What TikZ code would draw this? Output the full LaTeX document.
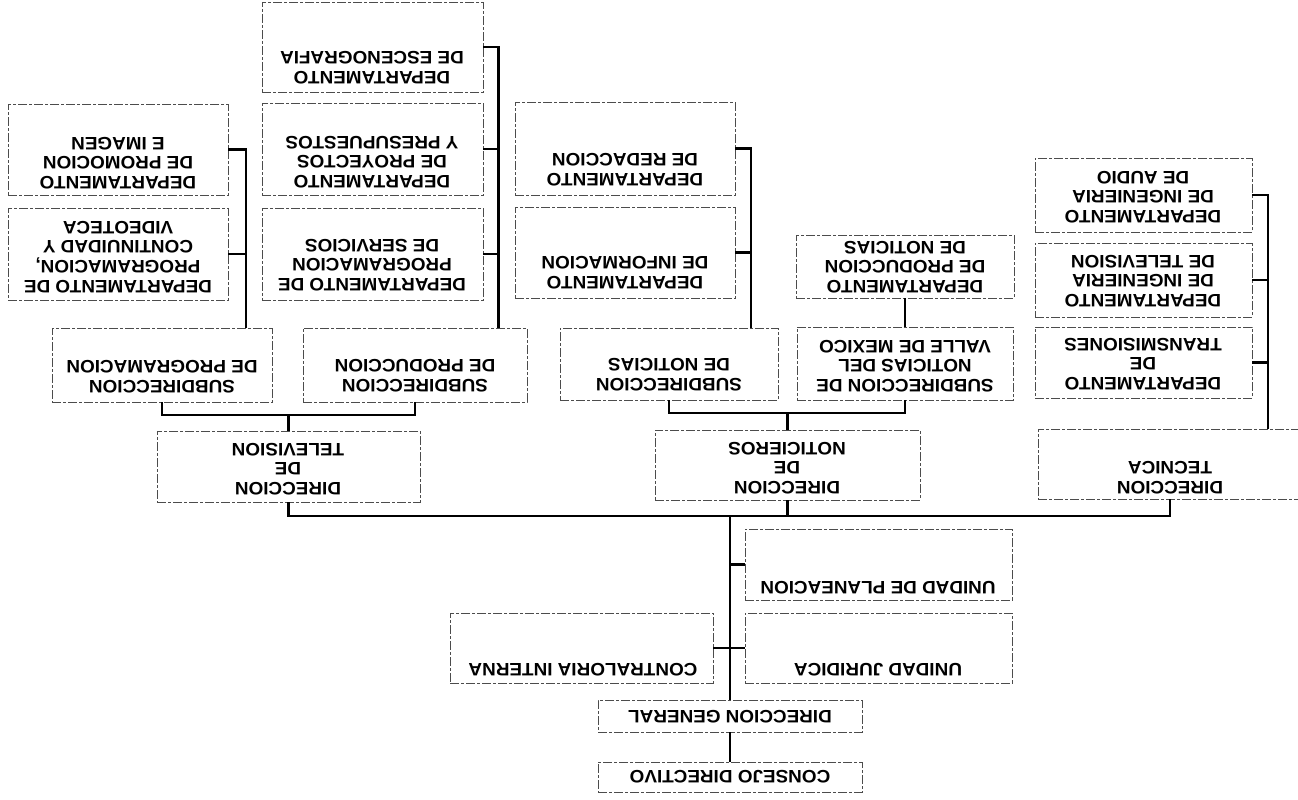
\documentclass[tikz,border=0pt]{standalone}
\usepackage{fontspec}
\newfontfamily\lbfont{Liberation Sans}[FakeStretch=1.05]
\begin{document}
\begin{tikzpicture}[x=1pt,y=-1pt,
  box/.style={draw=black!70, line width=0.8pt, dash pattern=on 9pt off 2pt on 3pt off 2pt, inner sep=0pt, outer sep=0pt},
  lbl/.style={rotate=180, align=center, inner sep=0pt, font={\lbfont\bfseries\fontsize{18}{19.7}\selectfont}},
  conn/.style={line width=2.2pt, line join=miter, black}]
\useasboundingbox (0,0) rectangle (1298,800);
\clip (0,0) rectangle (1298,800);
% ---- boxes
\node[box, minimum width=264, minimum height=30] (cd) at (730,777) {};
\node[box, minimum width=264, minimum height=32] (dg) at (730,716) {};
\node[box, minimum width=263, minimum height=70] (contra) at (581.5,648) {};
\node[box, minimum width=267, minimum height=70] (jur) at (878.5,648) {};
\node[box, minimum width=267, minimum height=71] (plan) at (878.5,564.5) {};
\node[box, minimum width=263, minimum height=71] (dirtv) at (288.5,466.5) {};
\node[box, minimum width=265, minimum height=70] (dirnot) at (787.5,465) {};
\node[box, minimum width=264, minimum height=70] (dirtec) at (1170,464) {};
\node[box, minimum width=220, minimum height=74] (subprog) at (162,365) {};
\node[box, minimum width=224, minimum height=74] (subprod) at (415,365) {};
\node[box, minimum width=218, minimum height=72] (subnot) at (669,364) {};
\node[box, minimum width=216, minimum height=73] (subvalle) at (905,363.5) {};
\node[box, minimum width=218, minimum height=63] (prodnot) at (905,266.5) {};
\node[box, minimum width=220, minimum height=93] (red) at (625,148.5) {};
\node[box, minimum width=220, minimum height=91] (inf) at (625,252.5) {};
\node[box, minimum width=221, minimum height=90] (esc) at (372.5,47) {};
\node[box, minimum width=221, minimum height=92] (proy) at (372.5,149) {};
\node[box, minimum width=221, minimum height=92] (serv) at (372.5,254) {};
\node[box, minimum width=220, minimum height=91] (promo) at (118,149.5) {};
\node[box, minimum width=220, minimum height=92] (cont) at (118,254) {};
\node[box, minimum width=217, minimum height=74] (audio) at (1143.5,195) {};
\node[box, minimum width=217, minimum height=74] (tvdep) at (1143.5,280) {};
\node[box, minimum width=217, minimum height=71] (trans) at (1143.5,362.5) {};
% ---- labels
\node[lbl] (cd-t) at (730,777) {CONSEJO DIRECTIVO};
\node[lbl] (dg-t) at (730,717) {DIRECCION GENERAL};
\node[lbl] (contra-t) at (583,670) {CONTRALORIA INTERNA};
\node[lbl] (jur-t) at (878,670) {UNIDAD JURIDICA};
\node[lbl] (plan-t) at (878,588) {UNIDAD DE PLANEACION};
\node[lbl] (dirtv-t) at (288,469) {DIRECCION\\DE\\TELEVISION};
\node[lbl] (dirnot-t) at (787,468) {DIRECCION\\DE\\NOTICIEROS};
\node[lbl] (dirtec-t) at (1170,477.5) {DIRECCION\\TECNICA};
\node[lbl] (subprog-t) at (162,377) {SUBDIRECCION\\DE PROGRAMACION};
\node[lbl] (subprod-t) at (415,376) {SUBDIRECCION\\DE PRODUCCION};
\node[lbl] (subnot-t) at (669,375) {SUBDIRECCION\\DE NOTICIAS};
\node[lbl] (subvalle-t) at (905,366) {SUBDIRECCION DE\\NOTICIAS DEL\\VALLE DE MEXICO};
\node[lbl] (prodnot-t) at (905,267) {DEPARTAMENTO\\DE PRODUCCION\\DE NOTICIAS};
\node[lbl] (red-t) at (625,170) {DEPARTAMENTO\\DE REDACCION};
\node[lbl] (inf-t) at (625,273) {DEPARTAMENTO\\DE INFORMACION};
\node[lbl] (esc-t) at (372,67.5) {DEPARTAMENTO\\DE ESCENOGRAFIA};
\node[lbl] (proy-t) at (372,162) {DEPARTAMENTO\\DE PROYECTOS\\Y PRESUPUESTOS};
\node[lbl] (serv-t) at (372,265) {DEPARTAMENTO DE\\PROGRAMACION\\DE SERVICIOS};
\node[lbl] (promo-t) at (118,163) {DEPARTAMENTO\\DE PROMOCION\\E IMAGEN};
\node[lbl] (cont-t) at (118,257) {DEPARTAMENTO DE\\PROGRAMACION,\\CONTINUIDAD Y\\VIDEOTECA};
\node[lbl] (audio-t) at (1143,197) {DEPARTAMENTO\\DE INGENIERIA\\DE AUDIO};
\node[lbl] (tvdep-t) at (1143,281) {DEPARTAMENTO\\DE INGENIERIA\\DE TELEVISION};
\node[lbl] (trans-t) at (1143,364) {DEPARTAMENTO\\DE\\TRANSMISIONES};
% ---- connectors
\coordinate (hub) at (730,516);
\draw[conn] (cd.north) -- (dg.south);
\draw[conn] (dg.north) -- (hub);
\draw[conn] (plan.west) -- (plan.west -| hub);
\draw[conn] (contra.east) -- (jur.west);
\draw[conn] (dirtv.south) |- (hub) -| (dirtec.south);
\draw[conn] (dirnot.south) -- (dirnot.south |- hub);
% television
\coordinate (tvj) at (288.5,415);
\draw[conn] (subprog.south) |- (tvj) -| (subprod.south);
\draw[conn] (dirtv.north) -- (tvj);
\draw[conn] (promo.east) -- ++(18,0) coordinate (pt) -- (pt |- subprog.north);
\draw[conn] (cont.east) -- (cont.east -| pt);
\draw[conn] (esc.east) -- ++(15.5,0) coordinate (et) -- (et |- subprod.north);
\draw[conn] (proy.east) -- (proy.east -| et);
\draw[conn] (serv.east) -- (serv.east -| et);
% noticieros
\coordinate (nj) at (787.5,413);
\draw[conn] (subnot.south) |- (nj) -| (subvalle.south);
\draw[conn] (dirnot.north) -- (nj);
\draw[conn] (red.east) -- ++(16,0) coordinate (nt) -- (nt |- subnot.north);
\draw[conn] (inf.east) -- (inf.east -| nt);
\draw[conn] (prodnot.south) -- (subvalle.north);
% tecnica
\draw[conn] (audio.east) -- ++(16,0) coordinate (tt) -- (tt |- dirtec.north);
\draw[conn] (tvdep.east) -- (tvdep.east -| tt);
\draw[conn] (trans.east) -- (trans.east -| tt);
\end{tikzpicture}
\end{document}
